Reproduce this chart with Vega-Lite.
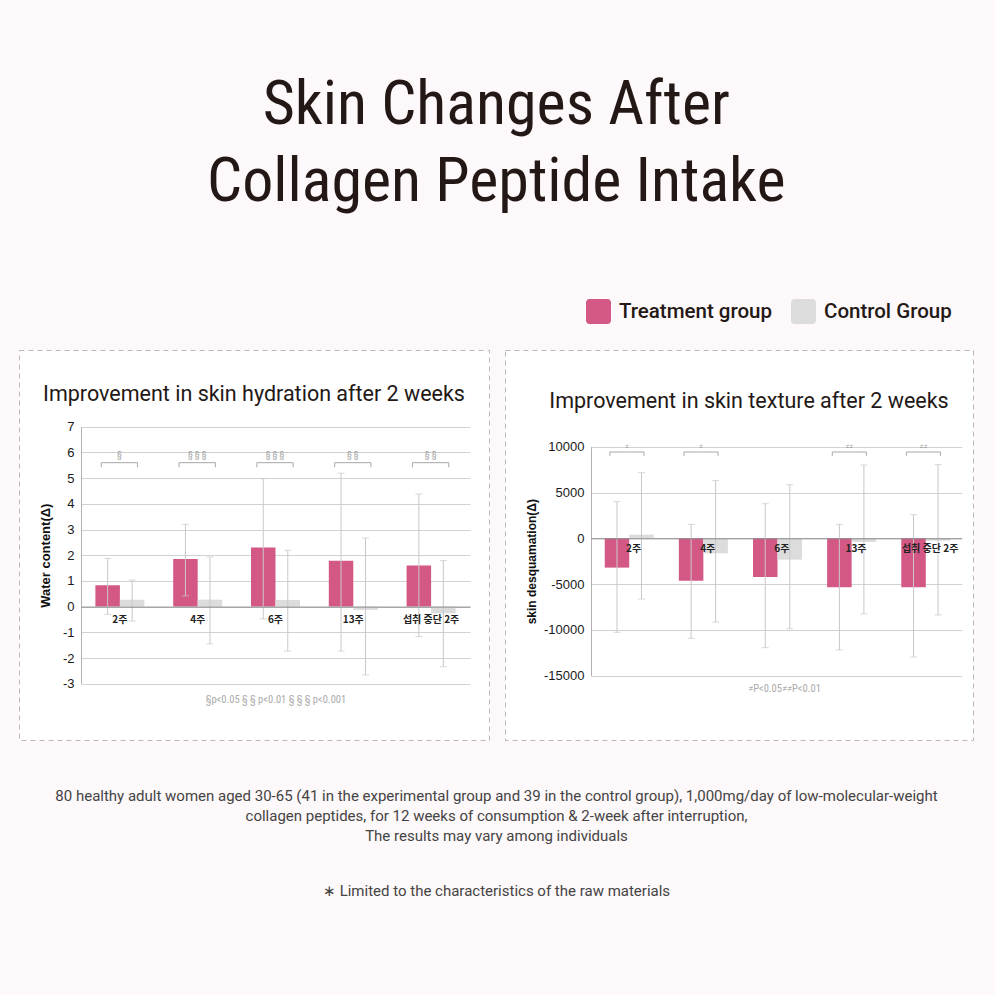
{
  "$schema": "https://vega.github.io/schema/vega-lite/v6.json",
  "background": "#fdf8f9",
  "padding": {"left": 18, "right": 22, "top": 74, "bottom": 97},
  "autosize": {"type": "pad"},
  "title": {
    "text": ["Skin Changes After", "Collagen Peptide Intake"],
    "font": "Liberation Sans Narrow, Roboto Condensed, Roboto",
    "fontSize": 62,
    "fontWeight": "normal",
    "color": "#231815",
    "lineHeight": 77,
    "anchor": "middle",
    "offset": 85
  },
  "datasets": {
    "hyd": [
      {"group": "2주", "series": "Treatment group", "value": 0.83, "lo": -0.3, "hi": 1.88},
      {"group": "2주", "series": "Control Group", "value": 0.27, "lo": -0.56, "hi": 1.03},
      {"group": "4주", "series": "Treatment group", "value": 1.85, "lo": 0.42, "hi": 3.2},
      {"group": "4주", "series": "Control Group", "value": 0.27, "lo": -1.45, "hi": 1.93},
      {"group": "6주", "series": "Treatment group", "value": 2.3, "lo": -0.48, "hi": 4.98},
      {"group": "6주", "series": "Control Group", "value": 0.26, "lo": -1.73, "hi": 2.19},
      {"group": "13주", "series": "Treatment group", "value": 1.78, "lo": -1.73, "hi": 5.19},
      {"group": "13주", "series": "Control Group", "value": -0.13, "lo": -2.66, "hi": 2.67},
      {"group": "섭취 중단 2주", "series": "Treatment group", "value": 1.6, "lo": -1.17, "hi": 4.38},
      {"group": "섭취 중단 2주", "series": "Control Group", "value": -0.26, "lo": -2.34, "hi": 1.79}
    ],
    "hyd_sig": [
      {"group": "2주", "sig": "§"},
      {"group": "4주", "sig": "§ § §"},
      {"group": "6주", "sig": "§ § §"},
      {"group": "13주", "sig": "§ §"},
      {"group": "섭취 중단 2주", "sig": "§ §"}
    ],
    "desq": [
      {"group": "2주", "series": "Treatment group", "value": -3200, "lo": -10260, "hi": 4000},
      {"group": "2주", "series": "Control Group", "value": 400, "lo": -6630, "hi": 7160},
      {"group": "4주", "series": "Treatment group", "value": -4630, "lo": -10920, "hi": 1530},
      {"group": "4주", "series": "Control Group", "value": -1640, "lo": -9140, "hi": 6290},
      {"group": "6주", "series": "Treatment group", "value": -4230, "lo": -11940, "hi": 3780},
      {"group": "6주", "series": "Control Group", "value": -2330, "lo": -9870, "hi": 5850},
      {"group": "13주", "series": "Treatment group", "value": -5350, "lo": -12190, "hi": 1530},
      {"group": "13주", "series": "Control Group", "value": -400, "lo": -8260, "hi": 8000},
      {"group": "섭취 중단 2주", "series": "Treatment group", "value": -5350, "lo": -12960, "hi": 2580},
      {"group": "섭취 중단 2주", "series": "Control Group", "value": -260, "lo": -8370, "hi": 8040}
    ],
    "desq_sig": [
      {"group": "2주", "sig": "≠"},
      {"group": "4주", "sig": "≠"},
      {"group": "13주", "sig": "≠≠"},
      {"group": "섭취 중단 2주", "sig": "≠≠"}
    ]
  },
  "config": {
    "axis": {"labelFont": "Liberation Sans", "titleFont": "Liberation Sans"},
    "legend": {"labelFont": "Roboto"}
  },
  "spacing": 47,
  "vconcat": [
    {
      "spacing": 14,
      "hconcat": [
        {
          "width": 470,
          "height": 390,
          "view": {"stroke": "#b8b8b8", "strokeDash": [5, 4], "fill": "#ffffff", "strokeWidth": 1},
          "title": {"text": "Improvement in skin hydration after 2 weeks", "font": "Roboto", "fontSize": 21.5, "fontWeight": "normal", "color": "#231815", "anchor": "middle", "offset": -55},
          "layer": [
            {
              "data": {"name": "hyd"},
              "mark": {"type": "bar"},
              "encoding": {
                "x": {"field": "group", "type": "nominal", "sort": null,
                  "scale": {"domain": ["2주", "4주", "6주", "13주", "섭취 중단 2주"], "range": [62, 451], "paddingInner": 0.37, "paddingOuter": 0.185},
                  "axis": {"orient": "bottom", "offset": -133.4, "zindex": 1, "domainColor": "#8a8a8a", "ticks": false, "labelAngle": 0, "labelPadding": 8, "labelFont": "Noto Sans CJK KR", "labelFontSize": 10, "labelFontWeight": "bold", "labelColor": "#222222", "title": "§p<0.05 § § p<0.01 § § § p<0.001", "titleFont": "Liberation Sans Narrow, Roboto Condensed, Roboto", "titleFontSize": 10.5, "titleFontWeight": "normal", "titleColor": "#aaaaaa", "titleY": 88}},
                "xOffset": {"field": "series", "type": "nominal", "scale": {"domain": ["Treatment group", "Control Group"]}},
                "y": {"field": "value", "type": "quantitative",
                  "scale": {"domain": [-3, 7], "range": [333.7, 76.7], "nice": false, "zero": false},
                  "axis": {"values": [-3, -2, -1, 0, 1, 2, 3, 4, 5, 6, 7], "tickCount": 12, "labelOverlap": false, "offset": -62, "zindex": 0, "grid": true, "gridColor": "#d2d2d2", "domainColor": "#b0b0b0", "ticks": false, "labelPadding": 7, "labelFontSize": 13, "labelColor": "#1a1a1a", "labelExpr": "'' + datum.value", "title": "Water content(Δ)", "titleFontSize": 13, "titleFontWeight": "bold", "titleColor": "#111111", "titlePadding": 10}},
                "color": {"field": "series", "type": "nominal",
                  "scale": {"domain": ["Treatment group", "Control Group"], "range": ["#d45886", "#dcdcdc"]},
                  "legend": {"orient": "none", "legendX": 567, "legendY": -51, "direction": "horizontal", "title": null,
                    "symbolType": "M-0.72,-1H0.72A0.28,0.28,0,0,1,1,-0.72V0.72A0.28,0.28,0,0,1,0.72,1H-0.72A0.28,0.28,0,0,1,-1,0.72V-0.72A0.28,0.28,0,0,1,-0.72,-1Z",
                    "symbolSize": 625, "symbolStrokeWidth": 0, "symbolOpacity": 1, "labelFontSize": 20.5, "labelFontWeight": 500, "labelColor": "#231815", "labelOffset": 8, "columnPadding": 18}}
              }
            },
            {
              "data": {"name": "hyd"},
              "mark": {"type": "rule", "color": "#c8c8c8", "strokeWidth": 1},
              "encoding": {
                "x": {"field": "group", "type": "nominal"},
                "xOffset": {"field": "series", "type": "nominal"},
                "y": {"field": "lo", "type": "quantitative"},
                "y2": {"field": "hi"}
              }
            },
            {
              "data": {"name": "hyd"},
              "mark": {"type": "tick", "color": "#c8c8c8", "size": 7, "thickness": 1},
              "encoding": {
                "x": {"field": "group", "type": "nominal"},
                "xOffset": {"field": "series", "type": "nominal"},
                "y": {"field": "lo", "type": "quantitative"}
              }
            },
            {
              "data": {"name": "hyd"},
              "mark": {"type": "tick", "color": "#c8c8c8", "size": 7, "thickness": 1},
              "encoding": {
                "x": {"field": "group", "type": "nominal"},
                "xOffset": {"field": "series", "type": "nominal"},
                "y": {"field": "hi", "type": "quantitative"}
              }
            },
            {
              "data": {"name": "hyd_sig"},
              "mark": {"type": "rule", "color": "#a8a8a8", "strokeWidth": 1},
              "encoding": {
                "x": {"field": "group", "type": "nominal", "bandPosition": 0.12},
                "x2": {"field": "group", "bandPosition": 0.86},
                "y": {"datum": 5.6}
              }
            },
            {
              "data": {"name": "hyd_sig"},
              "mark": {"type": "rule", "color": "#a8a8a8", "strokeWidth": 1},
              "encoding": {
                "x": {"field": "group", "type": "nominal", "bandPosition": 0.12},
                "y": {"datum": 5.42},
                "y2": {"datum": 5.6}
              }
            },
            {
              "data": {"name": "hyd_sig"},
              "mark": {"type": "rule", "color": "#a8a8a8", "strokeWidth": 1},
              "encoding": {
                "x": {"field": "group", "type": "nominal", "bandPosition": 0.86},
                "y": {"datum": 5.42},
                "y2": {"datum": 5.6}
              }
            },
            {
              "data": {"name": "hyd_sig"},
              "mark": {"type": "text", "color": "#a0a0a0", "fontSize": 9, "font": "Liberation Sans Narrow, Roboto Condensed, Roboto"},
              "encoding": {
                "x": {"field": "group", "type": "nominal", "bandPosition": 0.49},
                "y": {"datum": 5.9},
                "text": {"field": "sig"}
              }
            }
          ]
        },
        {
          "width": 468,
          "height": 390,
          "view": {"stroke": "#b8b8b8", "strokeDash": [5, 4], "fill": "#ffffff", "strokeWidth": 1},
          "title": {"text": "Improvement in skin texture after 2 weeks", "font": "Roboto", "fontSize": 21.5, "fontWeight": "normal", "color": "#231815", "anchor": "middle", "dx": 10, "offset": -62},
          "layer": [
            {
              "data": {"name": "desq"},
              "mark": {"type": "bar"},
              "encoding": {
                "x": {"field": "group", "type": "nominal", "sort": null,
                  "scale": {"domain": ["2주", "4주", "6주", "13주", "섭취 중단 2주"], "range": [86, 456.7], "paddingInner": 0.37, "paddingOuter": 0.185},
                  "axis": {"orient": "bottom", "offset": -201.7, "zindex": 1, "domainColor": "#8a8a8a", "ticks": false, "labelAngle": 0, "labelPadding": 5, "labelOffset": 5.5, "labelFont": "Noto Sans CJK KR", "labelFontSize": 10, "labelFontWeight": "bold", "labelColor": "#222222", "title": "≠P<0.05≠≠P<0.01", "titleFont": "Liberation Sans Narrow, Roboto Condensed, Roboto", "titleFontSize": 10.5, "titleFontWeight": "normal", "titleColor": "#aaaaaa", "titleX": 279, "titleY": 145}},
                "xOffset": {"field": "series", "type": "nominal", "scale": {"domain": ["Treatment group", "Control Group"]}},
                "y": {"field": "value", "type": "quantitative",
                  "scale": {"domain": [-15000, 10000], "range": [325.7, 96.7], "nice": false, "zero": false},
                  "axis": {"values": [-15000, -10000, -5000, 0, 5000, 10000], "tickCount": 8, "labelOverlap": false, "offset": -86, "zindex": 0, "grid": true, "gridColor": "#d2d2d2", "domainColor": "#b0b0b0", "ticks": false, "labelPadding": 7, "labelFontSize": 13, "labelColor": "#1a1a1a", "labelExpr": "'' + datum.value", "title": "skin desquamation(Δ)", "titleFontSize": 12, "titleFontWeight": "bold", "titleColor": "#111111", "titlePadding": 5}},
                "color": {"field": "series", "type": "nominal",
                  "scale": {"domain": ["Treatment group", "Control Group"], "range": ["#d45886", "#dcdcdc"]}}
              }
            },
            {
              "data": {"name": "desq"},
              "mark": {"type": "rule", "color": "#c8c8c8", "strokeWidth": 1},
              "encoding": {
                "x": {"field": "group", "type": "nominal"},
                "xOffset": {"field": "series", "type": "nominal"},
                "y": {"field": "lo", "type": "quantitative"},
                "y2": {"field": "hi"}
              }
            },
            {
              "data": {"name": "desq"},
              "mark": {"type": "tick", "color": "#c8c8c8", "size": 7, "thickness": 1},
              "encoding": {
                "x": {"field": "group", "type": "nominal"},
                "xOffset": {"field": "series", "type": "nominal"},
                "y": {"field": "lo", "type": "quantitative"}
              }
            },
            {
              "data": {"name": "desq"},
              "mark": {"type": "tick", "color": "#c8c8c8", "size": 7, "thickness": 1},
              "encoding": {
                "x": {"field": "group", "type": "nominal"},
                "xOffset": {"field": "series", "type": "nominal"},
                "y": {"field": "hi", "type": "quantitative"}
              }
            },
            {
              "data": {"name": "desq_sig"},
              "mark": {"type": "rule", "color": "#a8a8a8", "strokeWidth": 1},
              "encoding": {
                "x": {"field": "group", "type": "nominal", "bandPosition": 0.11},
                "x2": {"field": "group", "bandPosition": 0.84},
                "y": {"datum": 9420}
              }
            },
            {
              "data": {"name": "desq_sig"},
              "mark": {"type": "rule", "color": "#a8a8a8", "strokeWidth": 1},
              "encoding": {
                "x": {"field": "group", "type": "nominal", "bandPosition": 0.11},
                "y": {"datum": 9000},
                "y2": {"datum": 9420}
              }
            },
            {
              "data": {"name": "desq_sig"},
              "mark": {"type": "rule", "color": "#a8a8a8", "strokeWidth": 1},
              "encoding": {
                "x": {"field": "group", "type": "nominal", "bandPosition": 0.84},
                "y": {"datum": 9000},
                "y2": {"datum": 9420}
              }
            },
            {
              "data": {"name": "desq_sig"},
              "mark": {"type": "text", "color": "#a0a0a0", "fontSize": 8, "font": "Liberation Sans Narrow, Roboto Condensed, Roboto"},
              "encoding": {
                "x": {"field": "group", "type": "nominal", "bandPosition": 0.48},
                "y": {"datum": 10000},
                "text": {"field": "sig"}
              }
            }
          ]
        }
      ]
    },
    {
      "width": 955,
      "height": 1,
      "view": {"stroke": null, "fill": null},
      "data": {"values": [{"note": ""}]},
      "mark": {"type": "text"},
      "encoding": {"text": {"field": "note"}},
      "title": {
        "text": [
          "80 healthy adult women aged 30-65 (41 in the experimental group and 39 in the control group), 1,000mg/day of low-molecular-weight",
          "collagen peptides, for 12 weeks of consumption & 2-week after interruption,",
          "The results may vary among individuals"
        ],
        "subtitle": "∗ Limited to the characteristics of the raw materials",
        "font": "Roboto",
        "fontSize": 15,
        "fontWeight": "normal",
        "color": "#444444",
        "lineHeight": 20,
        "subtitleFont": "Roboto",
        "subtitleFontSize": 15,
        "subtitleColor": "#444444",
        "subtitlePadding": 40,
        "anchor": "middle",
        "offset": 0
      }
    }
  ]
}
